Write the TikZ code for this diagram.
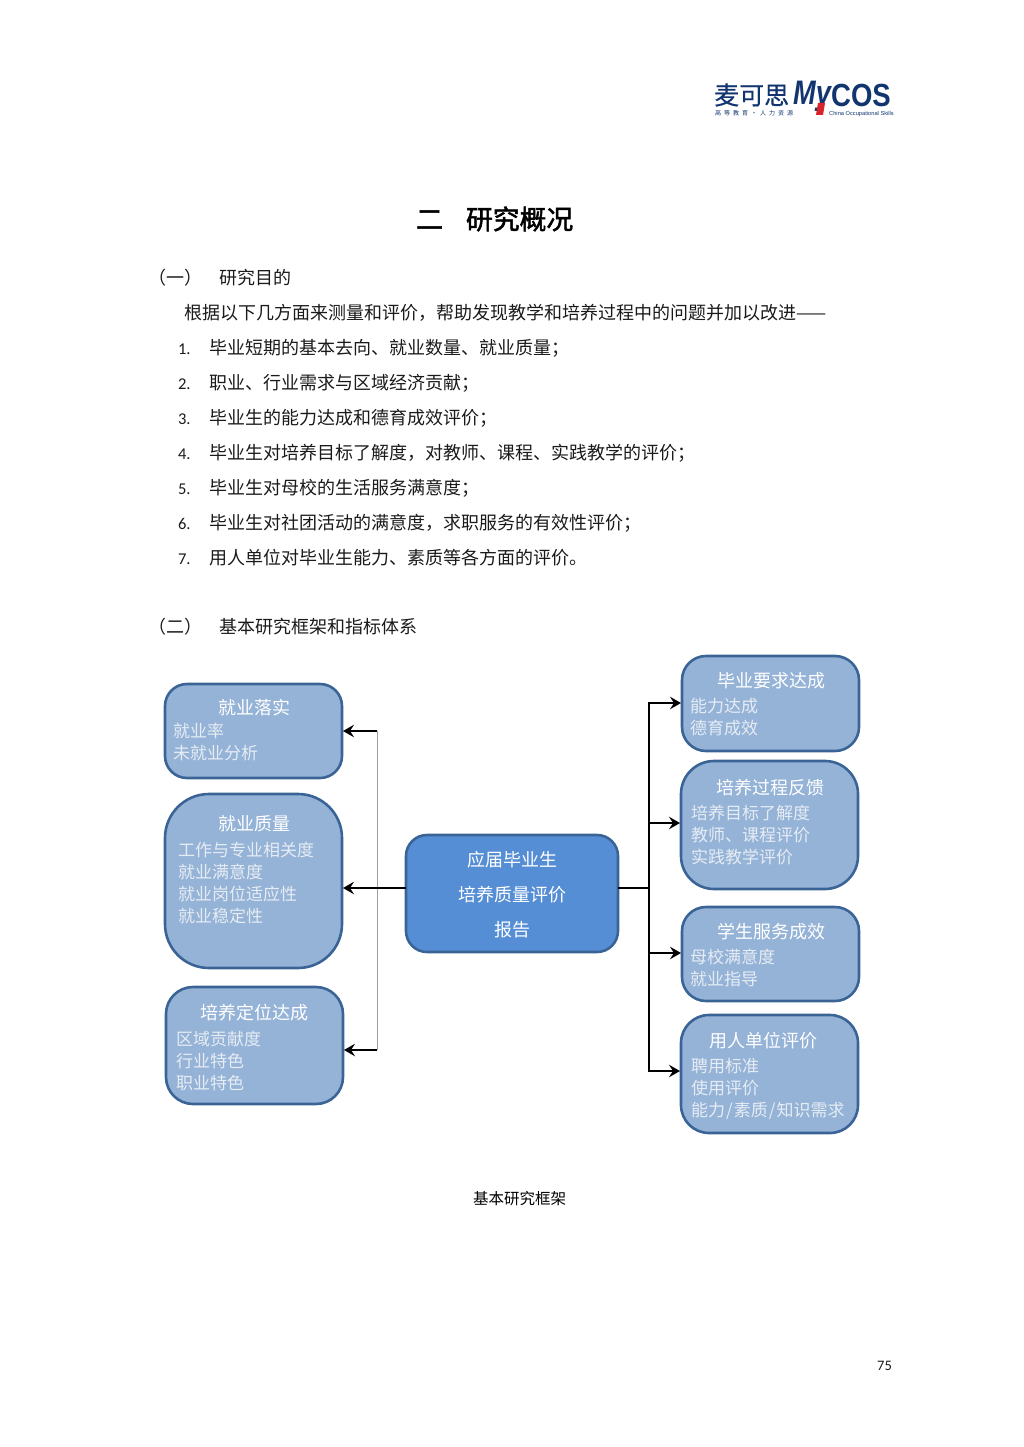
\documentclass[tikz,border=0pt]{standalone}
\usepackage{fontspec}
\setmainfont{Noto Sans CJK SC}
\newfontfamily\latinfont{Carlito}
\newfontfamily\logofont{Liberation Sans}
\newfontfamily\heavyfont[FakeBold=2.0]{Noto Sans CJK SC}
\newfontfamily\logocnfont[FakeBold=0.5]{Noto Sans CJK SC}
\usetikzlibrary{arrows.meta,calc}
\definecolor{boxfill}{HTML}{95B3D7}
\definecolor{boxline}{HTML}{3B6496}
\definecolor{mainfill}{HTML}{558ED5}
\definecolor{bodytext}{HTML}{1A1A1A}
\definecolor{softwhite}{HTML}{E6ECF4}
\definecolor{navy}{HTML}{12356F}
\definecolor{logored}{HTML}{D8232A}
\tikzset{
  x=1pt,y=-1pt,
  bluebox/.style={draw=boxline,line width=2.6pt,fill=boxfill,outer sep=0pt,inner sep=0pt,anchor=north west},
  mainbox/.style={draw=boxline,line width=2.6pt,fill=mainfill,outer sep=0pt,inner sep=0pt,anchor=north west},
  txt/.style={inner sep=0pt,outer sep=0pt,anchor=west,text height=0.82em,text depth=0.18em},
  body/.style={txt,text=bodytext,font=\fontsize{18}{18}\selectfont},
  num/.style={txt,text=bodytext,font=\latinfont\fontsize{16.5}{16.5}\selectfont},
  boxtitle/.style={inner sep=0pt,text=white,font=\fontsize{18}{18}\selectfont,text height=0.82em,text depth=0.18em},
  boxlist/.style={inner sep=0pt,anchor=west,align=left,text=softwhite,font=\fontsize{17}{22}\selectfont},
  conn/.style={black,line width=2.3pt},
  arr/.style={conn,-{Stealth[length=11pt,width=12.5pt,inset=4pt]},shorten >=1pt},
  thin trunk/.style={draw=black!38,line width=1pt},
}
\begin{document}
\begin{tikzpicture}
\useasboundingbox (0,0) rectangle (1024,1447);
% logo
\node[inner sep=0,anchor=west,text=navy,font=\logocnfont\fontsize{25}{25}\selectfont] (logocn) at (714,95) {麦可思};
\node[inner sep=0,anchor=west,text=navy,font=\logofont\bfseries\itshape\fontsize{34}{34}\selectfont] (logomy) at (793,96) {\scalebox{.8}[1]{My}};
\fill[logored] (818,103) -- (825,103) -- (823,115) -- (816,115) -- cycle;
\node[inner sep=0,anchor=west,text=navy,font=\logofont\bfseries\fontsize{32}{32}\selectfont,text height=23pt,text depth=0pt] (logocos) at (831,95) {\scalebox{.86}[1]{COS}};
\node[inner sep=0,anchor=west,text=navy,font=\fontsize{6}{6}\selectfont] (logosub) at (715,113) {高\hspace{3pt}等\hspace{3pt}教\hspace{3pt}育\hspace{3pt}·\hspace{3pt}人\hspace{3pt}力\hspace{3pt}资\hspace{3pt}源};
\node[inner sep=0,anchor=west,text=navy,font=\logofont\fontsize{5.7}{5.7}\selectfont] (logoen) at (829,114) {China Occupational Skills};
% headings
\node[txt,text=black,font=\heavyfont\fontsize{27}{27}\selectfont] (title1) at (416,226) {二};
\node[txt,text=black,font=\heavyfont\fontsize{26.8}{26.8}\selectfont] (title2) at (466,226) {研究概况};
\node[body] (sec1a) at (148,281) {（一）};
\node[body] (sec1b) at (219,281) {研究目的};
\node[body] (intro) at (184,316) {根据以下几方面来测量和评价，帮助发现教学和培养过程中的问题并加以改进——};
\node[num] (n1) at (178,351) {1.};
\node[body] (t1) at (209,351) {毕业短期的基本去向、就业数量、就业质量；};
\node[num] (n2) at (178,386) {2.};
\node[body] (t2) at (209,386) {职业、行业需求与区域经济贡献；};
\node[num] (n3) at (178,421) {3.};
\node[body] (t3) at (209,421) {毕业生的能力达成和德育成效评价；};
\node[num] (n4) at (178,456) {4.};
\node[body] (t4) at (209,456) {毕业生对培养目标了解度，对教师、课程、实践教学的评价；};
\node[num] (n5) at (178,491) {5.};
\node[body] (t5) at (209,491) {毕业生对母校的生活服务满意度；};
\node[num] (n6) at (178,526) {6.};
\node[body] (t6) at (209,526) {毕业生对社团活动的满意度，求职服务的有效性评价；};
\node[num] (n7) at (178,561) {7.};
\node[body] (t7) at (209,561) {用人单位对毕业生能力、素质等各方面的评价。};
\node[body] (sec2a) at (148,630) {（二）};
\node[body] (sec2b) at (219,630) {基本研究框架和指标体系};
% boxes
\node[bluebox,rounded corners=22pt,minimum width=177pt,minimum height=94pt] (L1) at (165,684) {};
\node[bluebox,rounded corners=44pt,minimum width=177pt,minimum height=174pt] (L2) at (165,794) {};
\node[bluebox,rounded corners=27pt,minimum width=177pt,minimum height=117pt] (L3) at (166,987) {};
\node[mainbox,rounded corners=21pt,minimum width=212pt,minimum height=117pt] (C) at (406,835) {};
\node[bluebox,rounded corners=24pt,minimum width=177pt,minimum height=95pt] (R1) at (682,656) {};
\node[bluebox,rounded corners=33pt,minimum width=177pt,minimum height=128pt] (R2) at (681,761) {};
\node[bluebox,rounded corners=24pt,minimum width=177pt,minimum height=94pt] (R3) at (682,907) {};
\node[bluebox,rounded corners=28pt,minimum width=177pt,minimum height=118pt] (R4) at (681,1015) {};
% box texts
\node[boxtitle] (L1t) at (254,711) {就业落实};
\node[boxlist] (L1b) at (173,741.5) {就业率\\未就业分析};
\node[boxtitle] (L2t) at (254,827) {就业质量};
\node[boxlist] (L2b) at (178,883.5) {工作与专业相关度\\就业满意度\\就业岗位适应性\\就业稳定性};
\node[boxtitle] (L3t) at (254.5,1016) {培养定位达成};
\node[boxlist] (L3b) at (176,1061) {区域贡献度\\行业特色\\职业特色};
\node[boxtitle] (Ct1) at (512,863) {应届毕业生};
\node[boxtitle] (Ct2) at (512,898) {培养质量评价};
\node[boxtitle] (Ct3) at (512,933) {报告};
\node[boxtitle] (R1t) at (771,684) {毕业要求达成};
\node[boxlist] (R1b) at (690,717.5) {能力达成\\德育成效};
\node[boxtitle] (R2t) at (770,791) {培养过程反馈};
\node[boxlist] (R2b) at (691,835.5) {培养目标了解度\\教师、课程评价\\实践教学评价};
\node[boxtitle] (R3t) at (771,935) {学生服务成效};
\node[boxlist] (R3b) at (690,968) {母校满意度\\就业指导};
\node[boxtitle] (R4t) at (763,1044) {用人单位评价};
\node[boxlist] (R4b) at (691,1089) {聘用标准\\使用评价\\能力\kern1pt/\kern1pt素质\kern1pt/\kern1pt知识需求};
% connectors
\coordinate (ltop) at (377,731);
\coordinate (lmid) at (377,888);
\coordinate (lbot) at (377,1050);
\coordinate (rtop) at (649,703);
\coordinate (rtwo) at (649,823);
\coordinate (rmid) at (649,888);
\coordinate (rthr) at (649,953);
\coordinate (rbot) at (649,1071);
\draw[thin trunk] (ltop) -- (lbot);
\draw[arr] (C.west |- lmid) -- (L2.east |- lmid);
\draw[arr] (ltop) -- (L1.east |- ltop);
\draw[arr] (lbot) -- (L3.east |- lbot);
\draw[conn] (C.east |- rmid) -- (rmid);
\draw[conn,line cap=rect] (rtop) -- (rbot);
\draw[arr] (rtop) -- (R1.west |- rtop);
\draw[arr] (rtwo) -- (R2.west |- rtwo);
\draw[arr] (rthr) -- (R3.west |- rthr);
\draw[arr] (rbot) -- (R4.west |- rbot);
% caption, page
\node[inner sep=0,text=black,font=\fontsize{15.5}{15.5}\selectfont,text height=0.82em,text depth=0.18em] (cap) at (519.5,1201) {基本研究框架};
\node[inner sep=0,text=bodytext,font=\latinfont\fontsize{14.5}{14.5}\selectfont] (page) at (884.5,1366) {75};
\end{tikzpicture}
\end{document}
